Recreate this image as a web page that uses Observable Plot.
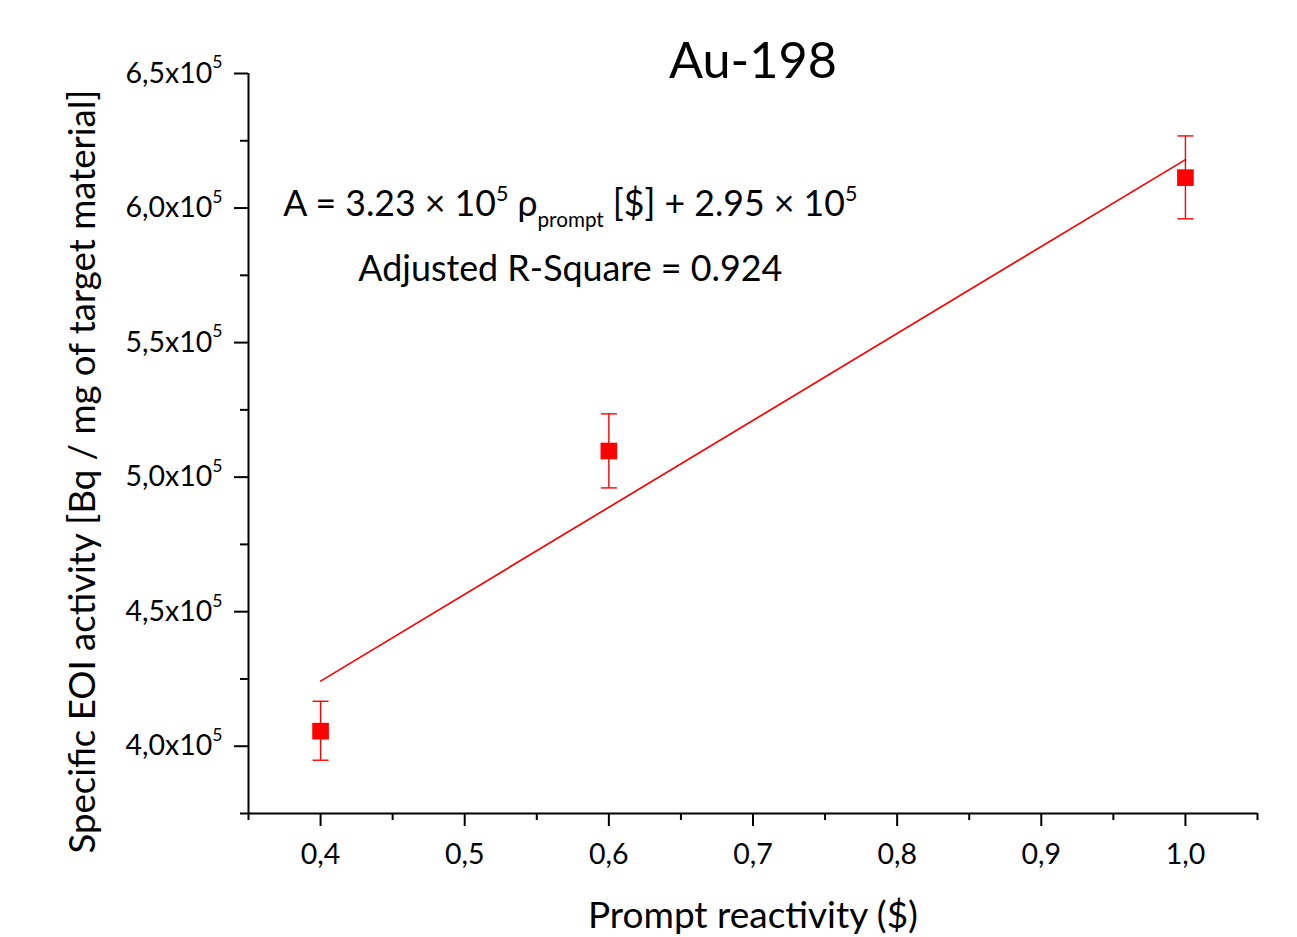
<!DOCTYPE html>
<html><head><meta charset="utf-8">
<script src="https://cdn.jsdelivr.net/npm/d3@7"></script>
<script src="https://cdn.jsdelivr.net/npm/@observablehq/plot@0.6"></script>
<style>html,body{margin:0;padding:0;background:#fff;}</style>
</head><body><div id="chart"></div>
<script>
// ---- data ----
const reactivity = [0.4, 0.6, 1.0];
const activity = [405600, 509700, 611300];
const errLow = [394800, 496000, 596000];
const errHigh = [416700, 523500, 626800];
const fitX = [0.4, 1.0];
const fitY = [424200, 618000];
const xTicks = [0.4, 0.5, 0.6, 0.7, 0.8, 0.9, 1.0];
const xMinorTicks = [0.35, 0.45, 0.55, 0.65, 0.75, 0.85, 0.95, 1.05];
const yTicks = [400000, 450000, 500000, 550000, 600000, 650000];
const yMinorTicks = [375000, 425000, 475000, 525000, 575000, 625000];
const titleText = ["Au-198"];
const xLabel = ["Prompt reactivity ($)"];
const yLabel = ["Specific EOI activity [Bq / mg of target material]"];
const annotText = ["A = 3.23 × 10^{5} ρ_{prompt} [$] + 2.95 × 10^{5}", "Adjusted R-Square = 0.924"];
const annotX = [0.5733, 0.5733];
const annotY = [601300, 577100];

// text widths (style) matching the reference
const textWidths = new Map([
  ["Au-198", 168],
  ["Prompt reactivity ($)", 330],
  ["Specific EOI activity [Bq / mg of target material]", 764],
  ["A = 3.23 × 10^{5} ρ_{prompt} [$] + 2.95 × 10^{5}", 574],
  ["Adjusted R-Square = 0.924", 424]
]);

const RED = "#ff0000";
const points = reactivity.map((x, i) => ({x, y: activity[i], lo: errLow[i], hi: errHigh[i]}));
const fit = fitX.map((x, i) => ({x, y: fitY[i]}));
const annots = annotText.map((t, i) => ({t, x: annotX[i], y: annotY[i]}));
const capSymbol = {draw(ctx, size) { const w = Math.sqrt(size / Math.PI); ctx.moveTo(-w, 0); ctx.lineTo(w, 0); }};

const plot = Plot.plot({
  width: 1297, height: 937,
  marginLeft: 248, marginRight: 40, marginTop: 73, marginBottom: 124,
  style: {fontFamily: "Lato, sans-serif", fontSize: "28px", color: "#000", background: "#fff"},
  x: {domain: [0.35, 1.05]},
  y: {domain: [375000, 650000]},
  marks: [
    Plot.axisX({ticks: xTicks, tickSize: 13, tickPadding: 17, strokeWidth: 2, fontSize: 28.5,
      tickFormat: d => d.toFixed(1).replace(".", ","), label: null}),
    Plot.axisX({ticks: xMinorTicks, tickSize: 7, strokeWidth: 2, tickFormat: () => "", label: null}),
    Plot.axisY({ticks: yTicks, tickSize: 14, tickPadding: 12, strokeWidth: 2, fontSize: 28.5,
      tickFormat: d => (d / 1e5).toFixed(1).replace(".", ",") + "x10^{5}", label: null}),
    Plot.axisY({ticks: yMinorTicks, tickSize: 8, strokeWidth: 2, tickFormat: () => "", label: null}),
    Plot.ruleX([0.35], {strokeWidth: 2}),
    Plot.ruleY([375000], {strokeWidth: 2}),
    Plot.line(fit, {x: "x", y: "y", stroke: RED, strokeWidth: 1.7}),
    Plot.ruleX(points, {x: "x", y1: "lo", y2: "hi", stroke: RED, strokeWidth: 1.4}),
    Plot.dot(points, {x: "x", y: "hi", symbol: capSymbol, r: 8, stroke: RED, strokeWidth: 1.4, fill: "none"}),
    Plot.dot(points, {x: "x", y: "lo", symbol: capSymbol, r: 8, stroke: RED, strokeWidth: 1.4, fill: "none"}),
    Plot.dot(points, {x: "x", y: "y", symbol: "square", r: 9.4, fill: RED, stroke: "none"}),
    Plot.text(annots, {x: "x", y: "y", text: "t", fontSize: 36, textAnchor: "middle", lineAnchor: "middle"}),
    Plot.text(titleText, {frameAnchor: "top", text: d => d, dy: -12, fontSize: 50, textAnchor: "middle", lineAnchor: "middle"}),
    Plot.text(xLabel, {frameAnchor: "bottom", text: d => d, dy: 103, fontSize: 37, textAnchor: "middle", lineAnchor: "middle"}),
    Plot.text(yLabel, {frameAnchor: "left", text: d => d, dx: -165, dy: 28, rotate: -90, fontSize: 36.5, textAnchor: "middle", lineAnchor: "middle"})
  ]
});

function richify(el, supShift, supSize, subShift, subSize) {
  const s = el.textContent;
  if (!/[\^_]\{/.test(s)) return false;
  const fontSize = parseFloat(getComputedStyle(el).fontSize) || 28;
  const parts = s.split(/([\^_]\{[^}]*\})/).filter(p => p !== "");
  const sel = d3.select(el);
  sel.text(null);
  let shift = 0;
  for (const p of parts) {
    let target = 0, txt = p, fs = null;
    if (p.startsWith("^{")) { target = supShift * fontSize; txt = p.slice(2, -1); fs = supSize * fontSize; }
    else if (p.startsWith("_{")) { target = subShift * fontSize; txt = p.slice(2, -1); fs = subSize * fontSize; }
    const ts = sel.append("tspan").attr("dy", target - shift).text(txt);
    if (fs) ts.attr("font-size", fs);
    shift = target;
  }
  return true;
}

document.getElementById("chart").appendChild(plot);
d3.select(plot).selectAll("text").each(function() {
  const s = this.textContent;
  const w = textWidths.get(s);
  const isYTick = /x10\^\{5\}$/.test(s);
  if (isYTick) richify(this, -0.5, 0.62, 0.1, 0.55);
  else richify(this, -0.42, 0.6, 0.3, 0.58);
  if (w) d3.select(this).attr("textLength", w).attr("lengthAdjust", "spacingAndGlyphs");
});
</script>
</body></html>
